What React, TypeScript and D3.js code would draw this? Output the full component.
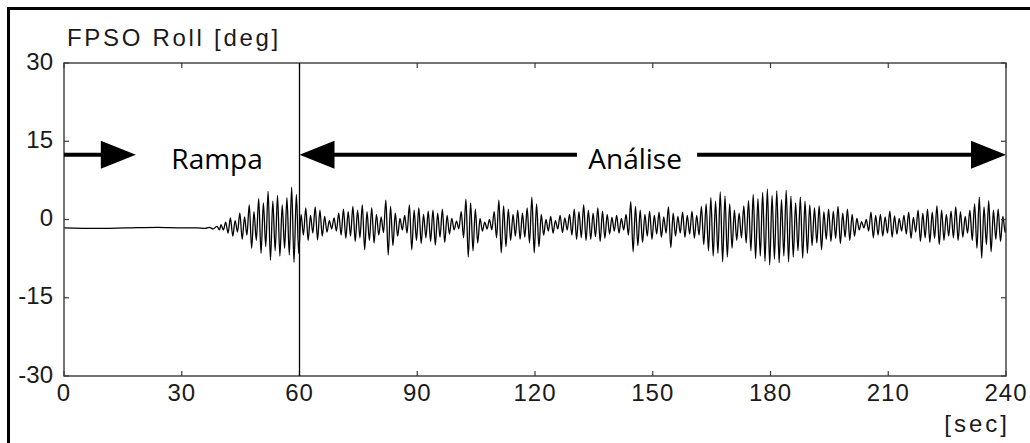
import React from 'react';
import * as d3 from 'd3';

const xTicks = [0, 30, 60, 90, 120, 150, 180, 210, 240];
const yTicks = [30, 15, 0, -15, -30];

// quiet ramp part (time s, roll deg)
const rampTime = [0, 8, 16, 24, 30, 34, 36, 37, 38, 39, 39.6];
const rampDeg = [-1.6, -1.7, -1.6, -1.5, -1.6, -1.6, -1.7, -1.5, -1.8, -1.3, -2.0];

// oscillating part: one crest / trough per roll cycle, from t = 40 s
const waveStart = 40;
const cycle = 1.2;
const rollMax = [
  -1.0, -0.5, 0.3, -0.2, 1.2,
  0.5, 2.8, 1.5, 4.0, 3.2,
  5.4, 3.5, 4.6, 2.8, 4.2,
  6.2, 4.8, 1.0, 2.2, 0.8,
  2.4, 1.8, 0.6, -0.2, 0.3,
  1.2, 2.0, 1.5, 2.5, 1.8,
  2.8, 1.5, 2.2, 1.0, 0.5,
  3.7, 2.5, 1.2, 0.2, 0.8,
  2.8, 1.8, 2.2, 1.0, 1.6,
  1.8, 1.2, 2.0, 0.8, 0.2,
  -0.3, 1.5, 3.9, 3.2, 2.0,
  0.2, -0.5, 0.0, 1.5, 3.7,
  2.6, 2.0, 1.0, 1.8, 1.2,
  2.2, 4.3, 3.0, 1.0, 0.0,
  0.6, -0.2, 0.8, 0.3, 1.0,
  2.0, 1.5, 2.8, 1.8, 1.2,
  2.2, 1.6, 1.0, 0.4, 0.8,
  0.2, 1.0, 3.4, 2.5, 1.8,
  1.0, 1.6, 0.8, 1.4, 0.5,
  2.4, 1.2, 0.6, 1.4, 0.8,
  1.6, 0.8, 2.5, 3.0, 4.2,
  3.5, 5.3, 4.5, 3.0, 1.8,
  1.2, 2.6, 3.6, 4.8, 4.0,
  5.2, 5.8, 4.6, 5.5, 3.8,
  5.6, 4.5, 3.2, 4.3, 3.5,
  2.8, 2.2, 2.6, 1.5, 2.0,
  1.6, 2.5, 1.2, 2.0, 1.0,
  0.2, -0.4, 0.0, 1.4, 0.8,
  1.0, 0.5, 1.6, 0.7, 0.2,
  0.8, 1.4, 0.4, 1.8, 1.2,
  2.0, 1.4, 2.6, 1.8, 1.0,
  1.6, 2.4, 1.5, 0.6, 1.8,
  3.0, 4.3, 2.4, 3.6, 1.8,
  2.0, 0.6, 0.3,
];
const rollMin = [
  -2.0, -2.6, -3.2, -2.4, -3.8,
  -3.0, -5.5, -4.0, -6.5, -5.2,
  -7.8, -6.0, -7.0, -5.5, -6.8,
  -8.2, -6.5, -3.0, -4.0, -2.6,
  -3.9, -3.2, -2.4, -1.8, -2.2,
  -3.0, -3.6, -3.2, -4.2, -3.5,
  -5.8, -4.0, -4.5, -3.0, -2.5,
  -6.8, -5.0, -3.2, -2.0, -2.6,
  -5.8, -4.0, -4.6, -3.5, -4.2,
  -4.9, -3.4, -4.4, -2.8, -2.0,
  -1.8, -3.5, -7.2, -6.0, -4.5,
  -2.2, -1.8, -2.0, -3.5, -6.4,
  -5.2, -4.0, -3.2, -3.8, -3.4,
  -4.5, -6.4, -5.2, -3.0, -2.2,
  -2.6, -1.8, -2.5, -2.0, -3.0,
  -3.8, -3.5, -4.0, -3.8, -3.3,
  -4.2, -3.6, -2.8, -2.2, -2.6,
  -2.0, -3.0, -6.2, -5.0, -4.4,
  -3.2, -3.8, -2.8, -3.4, -2.6,
  -5.4, -3.2, -2.6, -3.4, -2.8,
  -3.6, -3.0, -4.8, -6.0, -7.0,
  -6.5, -8.1, -7.2, -5.5, -4.0,
  -3.5, -4.5, -6.0, -7.5, -7.0,
  -8.0, -8.7, -7.6, -8.3, -7.0,
  -8.1, -7.2, -6.0, -7.4, -6.5,
  -5.0, -4.5, -5.8, -3.8, -4.2,
  -3.6, -4.6, -3.4, -4.0, -3.2,
  -2.0, -1.6, -2.2, -3.5, -3.0,
  -3.2, -2.6, -3.4, -2.8, -2.2,
  -2.8, -3.6, -2.4, -4.2, -3.5,
  -4.4, -3.6, -4.8, -4.0, -3.2,
  -3.5, -4.0, -3.4, -2.6, -4.0,
  -5.5, -7.4, -4.8, -6.2, -3.8,
  -4.2, -2.5, -1.0,
];

// annotation positions in data units
const arrowLevel = 12.4;
const rampaArrow = [0, 18.3];
const analiseLeftArrow = [60, 130.7];
const analiseRightArrow = [161.3, 240];
const rampaLabelT = 39;
const analiseLabelT = 145.5;
const splitT = 60;

const W = 1030;
const H = 443;
const L = 64, R = 1006, T = 63, B = 376;

export default function App() {
  const x = d3.scaleLinear().domain([0, 240]).range([L, R]);
  const y = d3.scaleLinear().domain([-30, 30]).range([B, T]);

  const pts: [number, number][] = [];
  rampTime.forEach((t, i) => pts.push([t, rampDeg[i]]));
  rollMax.forEach((v, i) => {
    const t0 = waveStart + i * cycle;
    pts.push([t0, v]);
    pts.push([t0 + cycle / 2, rollMin[i]]);
  });
  const line = d3
    .line<[number, number]>()
    .x((d) => x(d[0]))
    .y((d) => y(d[1]))
    .curve(d3.curveMonotoneX);

  const ay = y(arrowLevel);
  const headLen = 35;
  const headHalf = 14;
  const shaft = 4;

  const rightArrow = (a: number, b: number) => {
    const x0 = x(a), x1 = x(b);
    return (
      <g>
        <line x1={x0} x2={x1 - headLen + 2} y1={ay} y2={ay} stroke="#000" strokeWidth={shaft} />
        <path d={`M${x1},${ay} L${x1 - headLen},${ay - headHalf} L${x1 - headLen},${ay + headHalf} Z`} fill="#000" />
      </g>
    );
  };
  const leftArrow = (a: number, b: number) => {
    const x0 = x(a), x1 = x(b);
    return (
      <g>
        <line x1={x0 + headLen - 2} x2={x1} y1={ay} y2={ay} stroke="#000" strokeWidth={shaft} />
        <path d={`M${x0},${ay} L${x0 + headLen},${ay - headHalf} L${x0 + headLen},${ay + headHalf} Z`} fill="#000" />
      </g>
    );
  };

  const tickFont = { fontFamily: '"Liberation Sans", Arial, sans-serif', fontSize: 24, fill: '#1a1a1a' };
  const axisColor = '#3a3a3a';

  return (
    <svg width={W} height={H} style={{ position: 'absolute', left: 0, top: 0, background: '#fff' }}>
      <defs>
        <clipPath id="plotClip">
          <rect x={L} y={T} width={R - L} height={B - T} />
        </clipPath>
      </defs>
      <rect x={0} y={0} width={W} height={H} fill="#fff" />
      {/* outer frame */}
      <rect x={8.5} y={8.5} width={W + 10} height={H + 10} fill="none" stroke="#000" strokeWidth={3} />

      {/* title */}
      <text x={67} y={46} {...tickFont} letterSpacing={2.7}>FPSO Roll [deg]</text>

      {/* signal */}
      <path d={line(pts) || ''} fill="none" stroke="#000" strokeWidth={1.3} clipPath="url(#plotClip)" />

      {/* axes box */}
      <rect x={L} y={T} width={R - L} height={B - T} fill="none" stroke={axisColor} strokeWidth={1.4} />
      {xTicks.map((t) => (
        <g key={'x' + t}>
          <line x1={x(t)} x2={x(t)} y1={B} y2={B - 5} stroke={axisColor} strokeWidth={1.2} />
          <line x1={x(t)} x2={x(t)} y1={T} y2={T + 5} stroke={axisColor} strokeWidth={1.2} />
          <text x={x(t)} y={392} textAnchor="middle" dominantBaseline="central" {...tickFont} letterSpacing={1}>
            {t}
          </text>
        </g>
      ))}
      {yTicks.map((v) => (
        <g key={'y' + v}>
          <line x1={L} x2={L + 5} y1={y(v)} y2={y(v)} stroke={axisColor} strokeWidth={1.2} />
          <line x1={R} x2={R - 5} y1={y(v)} y2={y(v)} stroke={axisColor} strokeWidth={1.2} />
          <text x={53} y={y(v) - 2} textAnchor="end" dominantBaseline="central" {...tickFont}>
            {v}
          </text>
        </g>
      ))}
      <text x={1010} y={432} textAnchor="end" {...tickFont} letterSpacing={3}>[sec]</text>

      {/* split line */}
      <line x1={x(splitT)} x2={x(splitT)} y1={T} y2={B} stroke="#000" strokeWidth={1.3} />

      {/* arrows and labels */}
      {rightArrow(rampaArrow[0], rampaArrow[1])}
      {leftArrow(analiseLeftArrow[0], analiseLeftArrow[1])}
      {rightArrow(analiseRightArrow[0], analiseRightArrow[1])}
      <text x={x(rampaLabelT)} y={169} textAnchor="middle" fontFamily='"Open Sans", sans-serif' fontSize={28} fill="#000">
        Rampa
      </text>
      <text x={x(analiseLabelT)} y={169} textAnchor="middle" fontFamily='"Open Sans", sans-serif' fontSize={28} fill="#000">
        Análise
      </text>
    </svg>
  );
}
